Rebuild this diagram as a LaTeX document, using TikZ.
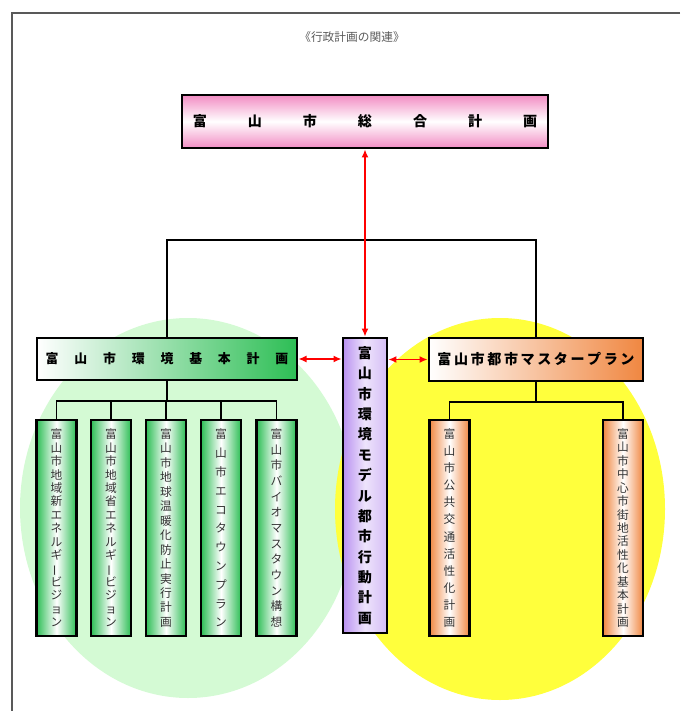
\documentclass[tikz,border=0pt]{standalone}
\usepackage{fontspec}
\setmainfont{Noto Sans CJK JP}
\usetikzlibrary{arrows.meta}

\definecolor{planpink}{RGB}{242,140,195}
\definecolor{envgreen}{RGB}{45,190,85}
\definecolor{citorange}{RGB}{240,135,65}
\definecolor{modelpurple}{RGB}{185,145,240}
\definecolor{bggreen}{RGB}{212,250,212}
\definecolor{bgyellow}{RGB}{255,255,60}

% characters set side by side with a fixed gap
\newcommand{\spaced}[2]{\foreach \c [count=\i] in {#2}{\ifnum\i>1 \hspace{#1}\fi\c}}
% long vowel mark turned for vertical text
\newcommand{\chouon}{\rotatebox[origin=c]{90}{ー}}

\begin{document}
\begin{tikzpicture}[x=0.03cm, y=-0.03cm,
  every node/.style={inner sep=0pt},
  box/.style={draw, line width=2.2pt},
  link/.style={line width=1.6pt},
  both/.style={red, line width=1.6pt, {Latex[length=7pt,width=6pt]}-{Latex[length=7pt,width=6pt]}},
  kidg/.style={box, left color=envgreen, right color=envgreen, middle color=white,
    minimum width=1.2cm, minimum height=6.48cm, align=center, text=black!80},
  kido/.style={box, left color=citorange, right color=citorange, middle color=white,
    minimum width=1.2cm, minimum height=6.48cm, align=center, text=black!80}]
\useasboundingbox (0,0) rectangle (680,711);

% Background circles
\fill[bggreen] (188,508) ellipse [x radius=168, y radius=190];
\fill[bgyellow] (500,509) ellipse [x radius=165, y radius=191];

% Page frame
\draw[black!65, line width=1.2pt] (680,13) -- (12,13) -- (12,711);

\node[text=black!65, font=\fontsize{10}{12}\selectfont] (title) at (352,37) {《行政計画の関連》};

% Main boxes
\node[box, top color=planpink, bottom color=planpink, middle color=white,
  minimum width=10.98cm, minimum height=1.59cm, font=\fontsize{12}{14}\selectfont\bfseries]
  (plan) at (365,121.5) {\spaced{35pt}{富,山,市,総,合,計,画}};
\node[box, left color=white, right color=envgreen,
  minimum width=7.8cm, minimum height=1.26cm, font=\fontsize{11}{13}\selectfont\bfseries]
  (env) at (167,359) {\spaced{13.5pt}{富,山,市,環,境,基,本,計,画}};
\node[box, left color=white, right color=citorange,
  minimum width=6.42cm, minimum height=1.29cm, font=\fontsize{12}{14}\selectfont\bfseries]
  (master) at (536,359.5) {\spaced{2.2pt}{富,山,市,都,市,マ,ス,タ,ー,プ,ラ,ン}};
\node[box, left color=modelpurple, right color=modelpurple!60!white, middle color=modelpurple!25!white,
  minimum width=1.32cm, minimum height=8.85cm, align=center, font=\fontsize{12}{17.4}\selectfont\bfseries]
  (model) at (365,485.5)
  {富\\山\\市\\環\\境\\モ\\デ\\ル\\都\\市\\行\\動\\計\\画};

% Plans under the environment plan
\foreach \n/\x/\p/\t in {
  k1/56.5/11.46/{富\\山\\市\\地\\域\\新\\エ\\ネ\\ル\\ギ\\\chouon\\ビ\\ジ\\ョ\\ン},
  k2/111/11.46/{富\\山\\市\\地\\域\\省\\エ\\ネ\\ル\\ギ\\\chouon\\ビ\\ジ\\ョ\\ン},
  k3/166/12.34/{富\\山\\市\\地\\球\\温\\暖\\化\\防\\止\\実\\行\\計\\画},
  k4/221/16.05/{富\\山\\市\\エ\\コ\\タ\\ウ\\ン\\プ\\ラ\\ン},
  k5/276.5/13.37/{富\\山\\市\\バ\\イ\\オ\\マ\\ス\\タ\\ウ\\ン\\構\\想}%
} {
  \node[kidg, font=\fontsize{10}{\p}\selectfont] (\n) at (\x,528) {\t};
  \draw[link] (env.south) -- ++(0,20) -| (\n.north);
}

% Plans under the city master plan
\foreach \n/\x/\p/\t in {
  m1/449.5/14.59/{富\\山\\市\\公\\共\\交\\通\\活\\性\\化\\計\\画},
  m2/623/11.46/{富\\山\\市\\中\\心\\市\\街\\地\\活\\性\\化\\基\\本\\計\\画}%
} {
  \node[kido, font=\fontsize{10}{\p}\selectfont] (\n) at (\x,528) {\t};
  \draw[link] (master.south) -- ++(0,20) -| (\n.north);
}

% Upper bus
\draw[link] (env.north) -- ++(0,-97) -| (master.north);

% Red links
\draw[both] (plan.south) -- (model.north);
\draw[both] (env.east) -- (env.east -| model.west);
\draw[both] (model.east |- master.west) -- (master.west);

\end{tikzpicture}
\end{document}
